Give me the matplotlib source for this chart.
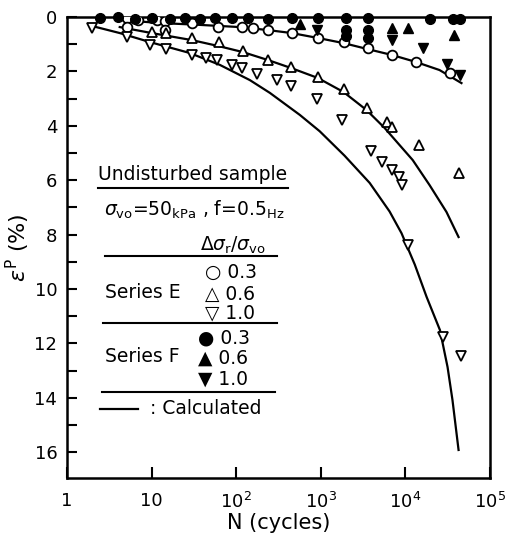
import matplotlib
matplotlib.use("Agg")
import matplotlib.pyplot as plt
from matplotlib.lines import Line2D

plt.rcParams['font.family'] = ['DejaVu Sans']
plt.rcParams['mathtext.fontset'] = 'dejavusans'

# ---- data (N cycles, plastic strain %) ----
e03_N = [5.1, 6.9, 5.1, 11.5, 14.4, 14.4, 30, 61, 116, 157, 236, 453, 920, 1860, 3580, 7000, 13200, 33400]
e03_eps = [0.02, 0.11, 0.37, 0.11, 0.15, 0.48, 0.22, 0.37, 0.37, 0.40, 0.48, 0.59, 0.77, 0.92, 1.14, 1.40, 1.65, 2.06]

e06_N = [10, 14.8, 30, 62, 120, 236, 445, 920, 1860, 3470, 6000, 7000, 14300, 42500]
e06_eps = [0.55, 0.59, 0.77, 0.92, 1.25, 1.58, 1.84, 2.21, 2.65, 3.35, 3.86, 4.04, 4.71, 5.74]

e10_N = [1.97, 5.1, 9.6, 14.8, 30, 44, 59, 89, 116, 176, 303, 445, 890, 1770, 3930, 5300, 7000, 8500, 9100, 10600, 27500, 45000]
e10_eps = [0.40, 0.74, 1.03, 1.18, 1.40, 1.51, 1.58, 1.76, 1.88, 2.10, 2.32, 2.54, 3.01, 3.79, 4.93, 5.33, 5.63, 5.88, 6.18, 8.38, 11.76, 12.46]

f03_N = [2.45, 4.0, 6.4, 10, 16.4, 24.7, 37, 56, 89, 137, 236, 453, 920, 1970, 1970, 1970, 3580, 3580, 3580, 19800, 36100, 43700]
f03_eps = [0.05, 0.0, 0.08, 0.03, 0.06, 0.02, 0.08, 0.03, 0.05, 0.02, 0.06, 0.03, 0.05, 0.05, 0.48, 0.70, 0.03, 0.48, 0.77, 0.06, 0.06, 0.06]

f06_N = [570, 7000, 10600, 38000]
f06_eps = [0.26, 0.40, 0.40, 0.66]

f10_N = [890, 7000, 16000, 31000, 43700]
f10_eps = [0.48, 0.85, 1.14, 1.73, 2.13]

# calculated curves
c03_N = [4.2, 12.5, 37, 110, 236, 453, 920, 1860, 3580, 7000, 13200, 25300, 46000]
c03_eps = [0.11, 0.22, 0.29, 0.37, 0.48, 0.59, 0.77, 0.96, 1.18, 1.40, 1.65, 1.95, 2.43]

c06_N = [4.2, 10, 30, 62, 120, 236, 440, 920, 1860, 3470, 5680, 8540, 12200, 19300, 30600, 42500]
c06_eps = [0.37, 0.59, 0.85, 1.07, 1.29, 1.58, 1.87, 2.24, 2.76, 3.42, 4.08, 4.71, 5.26, 6.18, 7.17, 8.09]

c10_N = [1.97, 4.2, 9.5, 28, 64, 145, 250, 565, 970, 1910, 3780, 6500, 9000, 12900, 17800, 25600, 31500, 36000, 42500]
c10_eps = [0.33, 0.59, 0.92, 1.32, 1.76, 2.32, 2.79, 3.60, 4.20, 5.10, 6.10, 7.15, 7.95, 9.10, 10.29, 11.51, 12.87, 14.08, 15.92]

xticks = [1, 10, 100, 1000, 10000, 100000]
xticklabels = ['1', '10', r'$10^2$', r'$10^3$', r'$10^4$', r'$10^5$']
yticks = list(range(0, 17))
yticklabels = [str(v) if v % 2 == 0 else '' for v in yticks]

W, H = 511, 539
fig = plt.figure(figsize=(W / 100, H / 100), dpi=100)
ax = fig.add_axes([67 / W, 1 - 478 / H, (490 - 67) / W, (478 - 17) / H])

ax.set_xscale('log')
ax.set_xlim(1, 1e5)
ax.set_ylim(16.95, 0)

lw_c = 1.6
for cN, ce in [(c03_N, c03_eps), (c06_N, c06_eps), (c10_N, c10_eps)]:
    ax.plot(cN, ce, color='black', lw=lw_c, zorder=2, solid_joinstyle='round')

ms = 7
mew = 1.3
ax.plot(e03_N, e03_eps, 'o', ms=ms, mfc='white', mec='black', mew=mew, ls='none', zorder=3)
ax.plot(e06_N, e06_eps, '^', ms=ms + 0.5, mfc='white', mec='black', mew=mew, ls='none', zorder=3)
ax.plot(e10_N, e10_eps, 'v', ms=ms + 0.5, mfc='white', mec='black', mew=mew, ls='none', zorder=3)
ax.plot(f03_N, f03_eps, 'o', ms=ms, mfc='black', mec='black', ls='none', zorder=4, clip_on=False)
ax.plot(f06_N, f06_eps, '^', ms=ms + 0.5, mfc='black', mec='black', ls='none', zorder=4)
ax.plot(f10_N, f10_eps, 'v', ms=ms + 0.5, mfc='black', mec='black', ls='none', zorder=4)

ax.set_xticks(xticks)
ax.set_xticklabels(xticklabels)
ax.xaxis.set_minor_locator(matplotlib.ticker.NullLocator())
ax.set_yticks(yticks)
ax.set_yticklabels(yticklabels)
ax.tick_params(axis='x', direction='in', length=8, width=1.5, labelsize=13, pad=10)
ax.tick_params(axis='y', direction='in', length=7, width=1.5, labelsize=13, pad=7)
for s in ax.spines.values():
    s.set_linewidth(1.8)

ax.set_xlabel('N (cycles)', fontsize=15, labelpad=1)
ax.set_ylabel(r'$\epsilon^{\rm P}$ (%)', fontsize=16, labelpad=2)

# legend block in figure pixel coordinates
def fx(x):
    return x / W

def fy(y):
    return 1 - y / H

fs = 13.5
fig.text(fx(98), fy(174), 'Undisturbed sample', fontsize=fs, va='center', ha='left')
fig.text(fx(104), fy(210), r'$\sigma_{\rm vo}$=50$_{\rm kPa}$ , f=0.5$_{\rm Hz}$', fontsize=fs, va='center', ha='left')
fig.text(fx(200), fy(245), r'$\Delta\sigma_{\rm r}/\sigma_{\rm vo}$', fontsize=fs, va='center', ha='left')
fig.text(fx(205), fy(272), '○ 0.3', fontsize=fs, va='center', ha='left')
fig.text(fx(105), fy(293), 'Series E', fontsize=fs, va='center', ha='left')
fig.text(fx(205), fy(294), '△ 0.6', fontsize=fs, va='center', ha='left')
fig.text(fx(205), fy(313), '▽ 1.0', fontsize=fs, va='center', ha='left')
fig.text(fx(198), fy(338), '● 0.3', fontsize=fs, va='center', ha='left')
fig.text(fx(105), fy(357), 'Series F', fontsize=fs, va='center', ha='left')
fig.text(fx(198), fy(358), '▲ 0.6', fontsize=fs, va='center', ha='left')
fig.text(fx(198), fy(379), '▼ 1.0', fontsize=fs, va='center', ha='left')
fig.text(fx(150), fy(409), ': Calculated', fontsize=fs, va='center', ha='left')

for (x0, x1, y) in [(98, 288, 188), (105, 277, 256), (103, 277, 323), (102, 275, 392)]:
    fig.add_artist(Line2D([fx(x0), fx(x1)], [fy(y), fy(y)], color='black', lw=1.5))
fig.add_artist(Line2D([fx(100), fx(138)], [fy(409), fy(409)], color='black', lw=1.6))

fig.savefig('out.png', dpi=100)
